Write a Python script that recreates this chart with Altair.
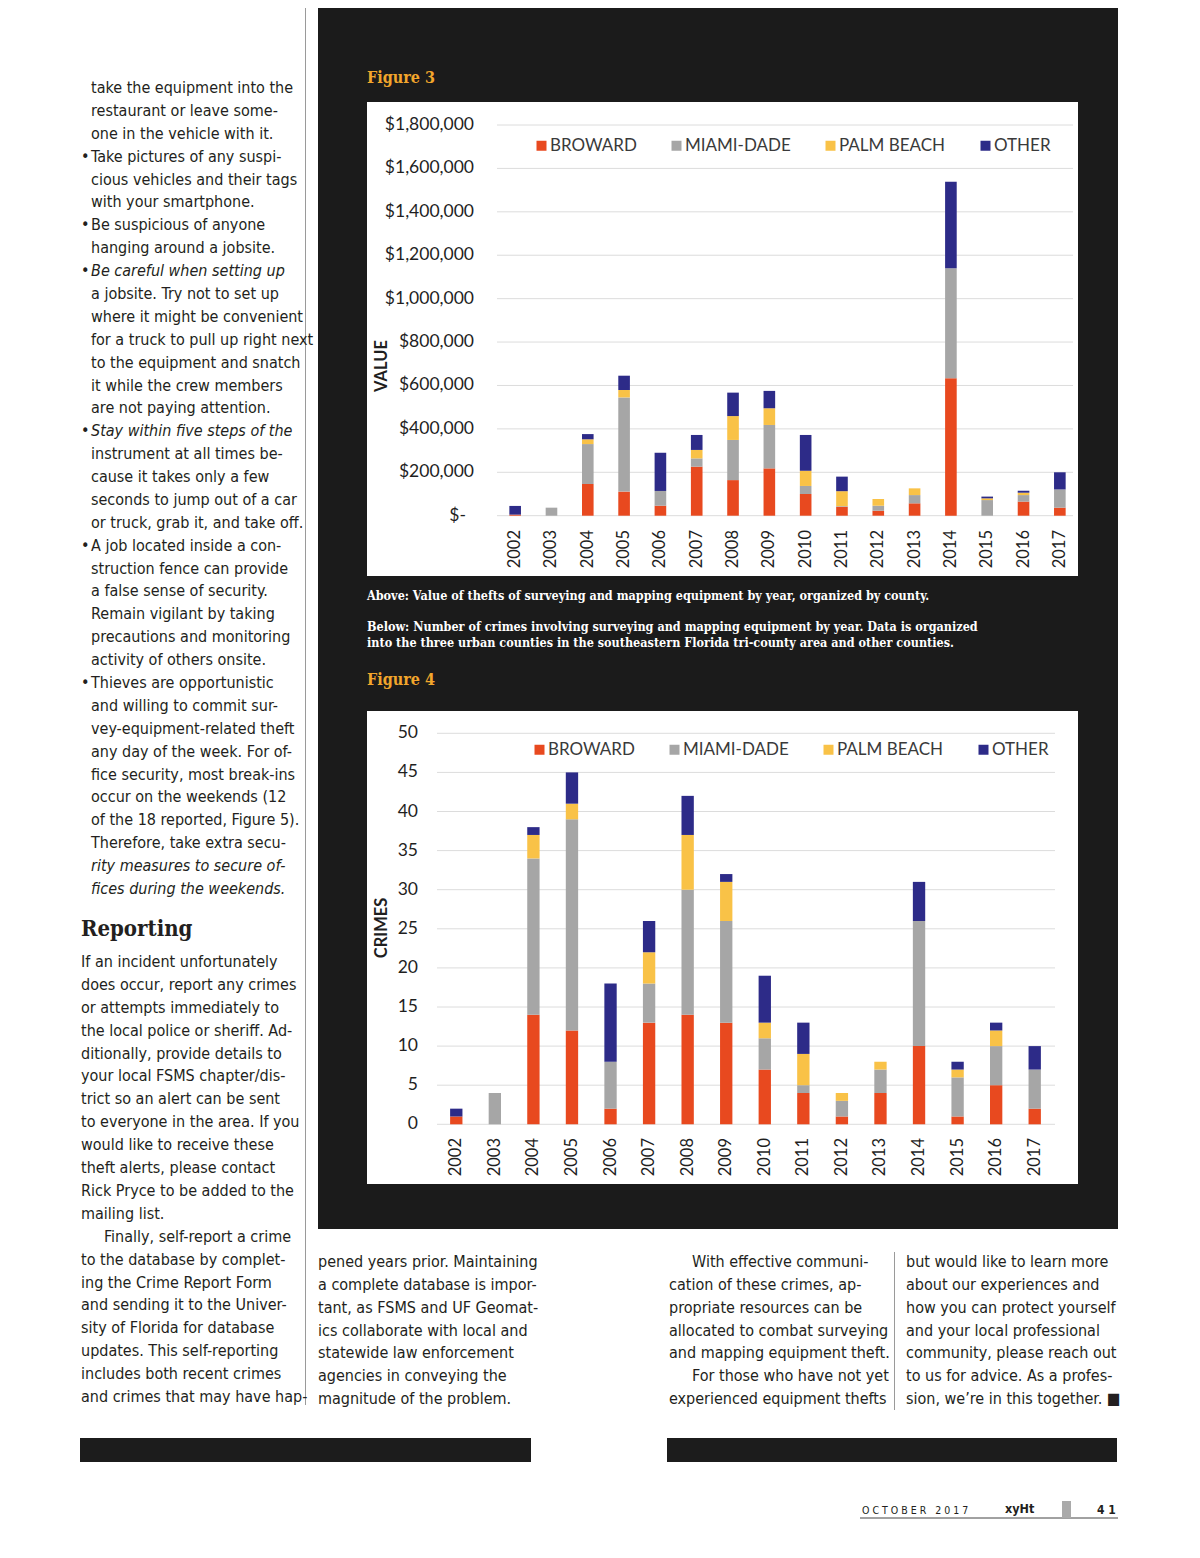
import altair as alt
import pandas as pd

# ---------------- data ----------------
YEARS = [str(y) for y in range(2002, 2018)]
COUNTIES = ["BROWARD", "MIAMI-DADE", "PALM BEACH", "OTHER"]
COLORS = ["#e8491f", "#a6a6a6", "#f9c247", "#2d2b88"]

VALUE_BROWARD = [5000, 0, 146000, 111000, 46000, 226000, 164000, 218000, 100000, 41000, 23000, 57000, 633000, 0, 65000, 37000]
VALUE_MIAMI = [0, 37000, 184000, 434000, 68000, 38000, 185000, 200000, 37000, 3000, 23000, 38000, 507000, 72000, 30000, 84000]
VALUE_PALM = [0, 0, 22000, 34000, 0, 39000, 110000, 77000, 70000, 69000, 31000, 31000, 0, 8000, 11000, 0]
VALUE_OTHER = [40000, 0, 24000, 66000, 176000, 69000, 108000, 80000, 165000, 67000, 0, 0, 399000, 8000, 9000, 79000]

CRIMES_BROWARD = [1, 0, 14, 12, 2, 13, 14, 13, 7, 4, 1, 4, 10, 1, 5, 2]
CRIMES_MIAMI = [0, 4, 20, 27, 6, 5, 16, 13, 4, 1, 2, 3, 16, 5, 5, 5]
CRIMES_PALM = [0, 0, 3, 2, 0, 4, 7, 5, 2, 4, 1, 1, 0, 1, 2, 0]
CRIMES_OTHER = [1, 0, 1, 4, 10, 4, 5, 1, 6, 4, 0, 0, 5, 1, 1, 3]

VALUE_TICKS = [0, 200000, 400000, 600000, 800000, 1000000, 1200000, 1400000, 1600000, 1800000]
VALUE_TICK_LABELS = ["$-", "$200,000", "$400,000", "$600,000", "$800,000", "$1,000,000",
                     "$1,200,000", "$1,400,000", "$1,600,000", "$1,800,000"]
CRIME_TICKS = [0, 5, 10, 15, 20, 25, 30, 35, 40, 45, 50]
CRIME_TICK_LABELS = [str(t) for t in CRIME_TICKS]

FIG3_TITLE = "Figure 3"
FIG4_TITLE = "Figure 4"
CAPTIONS = [
    "Above: Value of thefts of surveying and mapping equipment by year, organized by county.",
    "Below:  Number of crimes involving surveying and mapping equipment by year. Data is organized",
    "into the three urban counties in the southeastern Florida tri-county area and other counties.",
]

# "• " marks a bullet, "*" an italic line, ">" an indented first line
LEFT_TOP = [
    "take the equipment into the",
    "restaurant or leave some-",
    "one in the vehicle with it.",
    "• Take pictures of any suspi-",
    "cious vehicles and their tags",
    "with your smartphone.",
    "• Be suspicious of anyone",
    "hanging around a jobsite.",
    "• *Be careful when setting up",
    "a jobsite. Try not to set up",
    "where it might be convenient",
    "for a truck to pull up right next",
    "to the equipment and snatch",
    "it while the crew members",
    "are not paying attention.",
    "• *Stay within five steps of the",
    "instrument at all times be-",
    "cause it takes only a few",
    "seconds to jump out of a car",
    "or truck, grab it, and take off.",
    "• A job located inside a con-",
    "struction fence can provide",
    "a false sense of security.",
    "Remain vigilant by taking",
    "precautions and monitoring",
    "activity of others onsite.",
    "• Thieves are opportunistic",
    "and willing to commit sur-",
    "vey-equipment-related theft",
    "any day of the week. For of-",
    "fice security, most break-ins",
    "occur on the weekends (12",
    "of the 18 reported, Figure 5).",
    "Therefore, take extra secu-",
    "*rity measures to secure of-",
    "*fices during the weekends.",
]
HEADING = "Reporting"
LEFT_BOTTOM = [
    "If an incident unfortunately",
    "does occur, report any crimes",
    "or attempts immediately to",
    "the local police or sheriff. Ad-",
    "ditionally, provide details to",
    "your local FSMS chapter/dis-",
    "trict so an alert can be sent",
    "to everyone in the area. If you",
    "would like to receive these",
    "theft alerts, please contact",
    "Rick Pryce to be added to the",
    "mailing list.",
    ">Finally, self-report a crime",
    "to the database by complet-",
    "ing the Crime Report Form",
    "and sending it to the Univer-",
    "sity of Florida for database",
    "updates. This self-reporting",
    "includes both recent crimes",
    "and crimes that may have hap-",
]
COL_A = [
    "pened years prior. Maintaining",
    "a complete database is impor-",
    "tant, as FSMS and UF Geomat-",
    "ics collaborate with local and",
    "statewide law enforcement",
    "agencies in conveying the",
    "magnitude of the problem.",
]
COL_B = [
    ">With effective communi-",
    "cation of these crimes, ap-",
    "propriate resources can be",
    "allocated to combat surveying",
    "and mapping equipment theft.",
    ">For those who have not yet",
    "experienced equipment thefts",
]
COL_C = [
    "but would like to learn more",
    "about our experiences and",
    "how you can protect yourself",
    "and your local professional",
    "community, please reach out",
    "to us for advice. As a profes-",
    "sion, we\u2019re in this together. \u25a0",
]
FOOTER_MONTH = "O C T O B E R \u00a0 2 0 1 7"
FOOTER_MAG = "xyHt"
FOOTER_PAGE = "4 1"

# ---------------- styling ----------------
BODY_FONT = "Liberation Sans Narrow, DejaVu Sans Condensed, Roboto, sans-serif"
SERIF_FONT = "DejaVu Serif Condensed, DejaVu Serif, serif"
CHART_FONT = "Lato, Open Sans, sans-serif"
TEXT_COLOR = "#231f20"
BODY_SIZE = 16

OX, OY = 8, 8


def px(x):
    return x - OX


def py(y):
    return y - OY


def one():
    return pd.DataFrame({"r": [0]})


def rect(x0, x1, y0, y1, color):
    return alt.Chart(one()).mark_rect(color=color).encode(
        x=alt.value(px(x0)), x2=alt.value(px(x1)), y=alt.value(py(y0)), y2=alt.value(py(y1)))


def hrule(x0, x1, y, color, w=1):
    return alt.Chart(one()).mark_rule(color=color, strokeWidth=w).encode(
        x=alt.value(px(x0)), x2=alt.value(px(x1)), y=alt.value(py(y)))


def vrule(x, y0, y1, color, w=1):
    return alt.Chart(one()).mark_rule(color=color, strokeWidth=w).encode(
        x=alt.value(px(x)), y=alt.value(py(y0)), y2=alt.value(py(y1)))


def label(txt, x, y, **kw):
    kw.setdefault("baseline", "middle")
    return alt.Chart(pd.DataFrame({"t": [txt]})).mark_text(**kw).encode(
        x=alt.value(px(x)), y=alt.value(py(y)), text="t:N")


def long_table(series):
    rows = []
    for k, (county, vals) in enumerate(zip(COUNTIES, series)):
        for year, v in zip(YEARS, vals):
            rows.append({"year": year, "county": county, "value": v, "k": k})
    return pd.DataFrame(rows)


def figure(df, ticks, tick_labels, x_rng, y_top_val, y_rng, grid_x, tick_x, year_y,
           ytitle, ytitle_y, legend_xy):
    xs = alt.Scale(domain=YEARS, range=[px(x_rng[0]), px(x_rng[1])], paddingInner=0.68, paddingOuter=0.34)
    ys = alt.Scale(domain=[0, y_top_val], range=[py(y_rng[0]), py(y_rng[1])], nice=False, zero=False)
    tdf = pd.DataFrame({"v": ticks, "lab": tick_labels})
    tdf["dash"] = tdf["lab"] == "$-"
    grid = alt.Chart(tdf).mark_rule(color="#dcdcdc", strokeWidth=1).encode(
        y=alt.Y("v:Q", scale=ys, axis=None), x=alt.value(px(grid_x[0])), x2=alt.value(px(grid_x[1])))
    tl_layers = []
    for dash, dx in ((False, 0), (True, -8)):
        sub = tdf[tdf["dash"] == dash]
        if len(sub) == 0:
            continue
        tl_layers.append(alt.Chart(sub).mark_text(align="right", baseline="middle", font=CHART_FONT,
                                                  fontSize=17.5, dx=dx, color="#1f1f1f").encode(
            y=alt.Y("v:Q", scale=ys, axis=None), x=alt.value(px(tick_x)), text="lab:N"))
    bars = alt.Chart(df).mark_bar().encode(
        x=alt.X("year:N", scale=xs, axis=None),
        y=alt.Y("value:Q", scale=ys, axis=None, stack="zero"),
        color=alt.Color("county:N", scale=alt.Scale(domain=COUNTIES, range=COLORS),
                        legend=alt.Legend(orient="none", legendX=px(legend_xy[0]), legendY=py(legend_xy[1]),
                                          direction="horizontal", title=None, symbolType="square",
                                          symbolSize=100, symbolStrokeWidth=0, labelFont=CHART_FONT,
                                          labelFontSize=17, labelColor="#3a3a3a", labelOffset=0,
                                          columnPadding=31, padding=0)),
        order=alt.Order("k:Q"),
    )
    ydf = pd.DataFrame({"year": YEARS})
    yl = alt.Chart(ydf).mark_text(angle=270, align="right", baseline="middle", font=CHART_FONT,
                                  fontSize=16.5, color="#1f1f1f").encode(
        x=alt.X("year:N", scale=xs, axis=None), y=alt.value(py(year_y)), text="year:N")
    yt = label(ytitle, 382, ytitle_y, angle=270, align="center", font=CHART_FONT, fontSize=16.5,
               fontWeight="bold", color="#1f1f1f")
    return alt.layer(grid, *tl_layers, bars, yl, yt)


def column(lines, x, y_first, y_last, size=BODY_SIZE, bullet_x=None, indent=23):
    n = len(lines)
    rows = []
    for i, s in enumerate(lines):
        b = s.startswith("• ")
        if b:
            s = s[2:]
        ind = s.startswith(">")
        if ind:
            s = s[1:]
        it = s.startswith("*")
        if it:
            s = s[1:]
        rows.append({"i": i, "t": s, "b": b, "it": it, "ind": ind})
    df = pd.DataFrame(rows)
    sc = alt.Scale(domain=[0, n - 1], range=[py(y_first), py(y_last)], nice=False, zero=False)
    layers = []
    for italic in (False, True):
        for ind in (False, True):
            sub = df[(df["it"] == italic) & (df["ind"] == ind)]
            if len(sub) == 0:
                continue
            layers.append(alt.Chart(sub).mark_text(align="left", baseline="middle", font=BODY_FONT,
                                                   fontSize=size, dx=indent if ind else 0,
                                                   fontStyle="italic" if italic else "normal",
                                                   color=TEXT_COLOR).encode(
                x=alt.value(px(x)), y=alt.Y("i:Q", scale=sc, axis=None), text="t:N"))
    bsub = df[df["b"]]
    if len(bsub) and bullet_x is not None:
        layers.append(alt.Chart(bsub.assign(bt="•")).mark_text(align="left", baseline="middle", font=BODY_FONT,
                                                               fontSize=size, color=TEXT_COLOR).encode(
            x=alt.value(px(bullet_x)), y=alt.Y("i:Q", scale=sc, axis=None), text="bt:N"))
    return alt.layer(*layers)


fig3 = figure(long_table([VALUE_BROWARD, VALUE_MIAMI, VALUE_PALM, VALUE_OTHER]), VALUE_TICKS, VALUE_TICK_LABELS,
              (497, 1078), 1800000, (515.7, 125), (497, 1073), 474, 530, "VALUE", 366, (533, 137))
fig4 = figure(long_table([CRIMES_BROWARD, CRIMES_MIAMI, CRIMES_PALM, CRIMES_OTHER]), CRIME_TICKS, CRIME_TICK_LABELS,
              (437, 1054), 50, (1124.3, 733.3), (437, 1055), 418, 1138, "CRIMES", 928, (531, 741))

layers = [
    rect(318, 1118, 0, 1229, "#1b1b1b"),
    rect(367, 1078, 102, 576, "#ffffff"),
    rect(367, 1078, 711, 1184, "#ffffff"),
    rect(80, 531, 1438, 1462, "#1c1c1c"),
    rect(667, 1117, 1438, 1462, "#1c1c1c"),
    vrule(305.5, 0, 1405, "#9a9a9a"),
    vrule(894.5, 1252, 1410, "#9a9a9a"),
    fig3,
    fig4,
    label(FIG3_TITLE, 367, 78, align="left", font=SERIF_FONT, fontSize=16, fontWeight="bold", color="#f2a62c"),
    label(FIG4_TITLE, 367, 680, align="left", font=SERIF_FONT, fontSize=16, fontWeight="bold", color="#f2a62c"),
    label(CAPTIONS[0], 367, 596, align="left", font=SERIF_FONT, fontSize=12.5, fontWeight="bold", color="#ffffff"),
    label(CAPTIONS[1], 367, 627, align="left", font=SERIF_FONT, fontSize=12.5, fontWeight="bold", color="#ffffff"),
    label(CAPTIONS[2], 367, 643, align="left", font=SERIF_FONT, fontSize=12.5, fontWeight="bold", color="#ffffff"),
    column(LEFT_TOP, 91, 88, 889, bullet_x=81),
    label(HEADING, 81, 929, align="left", font=SERIF_FONT, fontSize=22, fontWeight="bold", color=TEXT_COLOR),
    column(LEFT_BOTTOM, 81, 962, 1397),
    column(COL_A, 318, 1262, 1399),
    column(COL_B, 669, 1262, 1399),
    column(COL_C, 906, 1262, 1399),
    hrule(860, 1118, 1518, "#444444"),
    rect(1062, 1071, 1501, 1518, "#aaaaaa"),
    label(FOOTER_MONTH, 862, 1511, align="left", font=BODY_FONT, fontSize=10.5, color=TEXT_COLOR),
    label(FOOTER_MAG, 1005, 1509, align="left", font=BODY_FONT, fontSize=12.5, fontWeight="bold", color=TEXT_COLOR),
    label(FOOTER_PAGE, 1097, 1510, align="left", font=BODY_FONT, fontSize=12, fontWeight="bold", color=TEXT_COLOR),
]

chart = alt.layer(*layers).resolve_scale(
    x="independent", y="independent", color="independent"
).resolve_legend(color="independent").properties(
    width=1184, height=1550, autosize=alt.AutoSizeParams(type="none"), padding=0, background="#ffffff"
).configure_view(stroke=None)

chart.save("out.html", embed_options={"renderer": "svg", "actions": False})
